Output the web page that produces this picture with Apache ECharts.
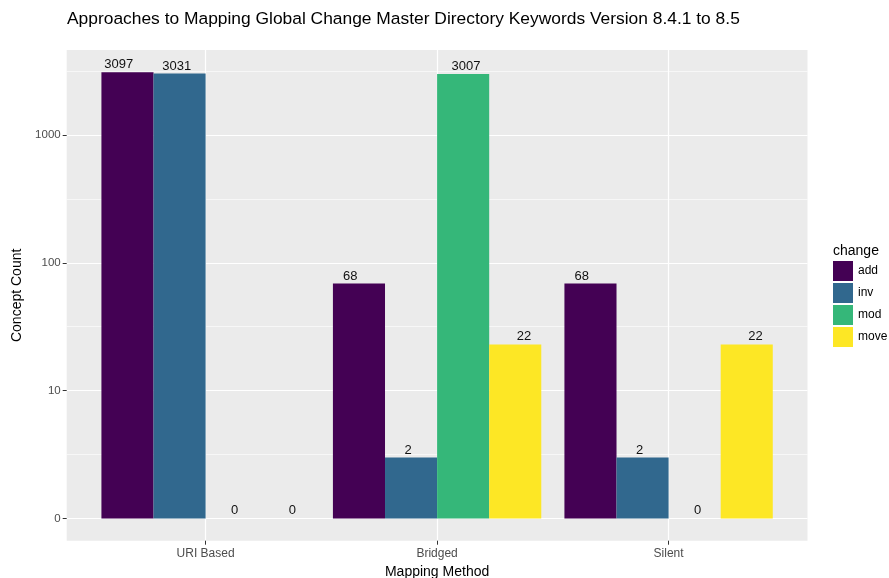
<!DOCTYPE html>
<html>
<head>
<meta charset="utf-8">
<script src="https://cdn.jsdelivr.net/npm/echarts@6/dist/echarts.min.js"></script>
<style>html,body{margin:0;padding:0;background:#fff}#c{width:889px;height:578px}</style>
</head>
<body>
<div id="c"></div>
<script>
// ---- data ----
var categories = ['URI Based', 'Bridged', 'Silent'];
var changes = ['add', 'inv', 'mod', 'move'];
var addValues  = [3097, 68, 68];
var invValues  = [3031, 2, 2];
var modValues  = [0, 3007, 0];
var moveValues = [0, 22, 22];
var yTickValues = [0, 10, 100, 1000];
var colors = ['#440154', '#31688E', '#35B779', '#FDE725'];

var seriesValues = [addValues, invValues, modValues, moveValues];
function t(v) { return Math.log10(v + 1); }
var maxT = 0;
seriesValues.forEach(function (arr) { arr.forEach(function (v) { maxT = Math.max(maxT, t(v)); }); });
var yMin = -0.05 * maxT, yMax = maxT * 1.05;
var majorY = yTickValues.map(function (v) { return Math.log10(v === 0 ? 1 : v); });
var minorY = [];
for (var i = 0; i < majorY.length; i++) { minorY.push(majorY[i] + 0.5); }
var catIdx = categories.map(function (c, i) { return i; });
var font = '"Liberation Sans", Arial, sans-serif';

var W = 889, gridLeft = 66.7, gridRight = 81.5;
var xMin = -0.6, xMax = categories.length - 1 + 0.6;
var unitPx = (W - gridLeft - gridRight) / (xMax - xMin);
var barFrac = 0.9 / changes.length, labelFrac = 1.0 / changes.length;

var chart = echarts.init(document.getElementById('c'), null, { renderer: 'canvas' });
chart.setOption({
  animation: false,
  backgroundColor: '#ffffff',
  title: [
    { text: 'Approaches to Mapping Global Change Master Directory Keywords Version 8.4.1 to 8.5',
      left: 62, top: 6, textStyle: { fontFamily: font, fontSize: 17.4, fontWeight: 'normal', color: '#000' } },
    { text: 'change', left: 833, top: 244, padding: 0,
      textStyle: { fontFamily: font, fontSize: 14, fontWeight: 'normal', color: '#000' } }
  ],
  legend: {
    data: changes, orient: 'vertical', left: 833, top: 261, padding: 0,
    itemWidth: 20, itemHeight: 20, itemGap: 2, icon: 'rect',
    textStyle: { fontFamily: font, fontSize: 12, color: '#000' },
    selectedMode: false
  },
  grid: { left: gridLeft, right: gridRight, top: 50, bottom: 37.3, show: true, backgroundColor: '#EBEBEB',
    borderWidth: 0, containLabel: false, outerBoundsMode: 'none' },
  xAxis: {
    type: 'value', min: xMin, max: xMax,
    name: 'Mapping Method', nameLocation: 'middle', nameGap: 24,
    nameTextStyle: { fontFamily: font, fontSize: 14, color: '#000' },
    axisLine: { show: false, onZero: false },
    axisTick: { show: true, length: 4, customValues: catIdx, lineStyle: { color: '#333' } },
    axisLabel: { customValues: catIdx, fontFamily: font, fontSize: 12, color: '#4D4D4D', margin: 7,
      formatter: function (v) { return categories[Math.round(v)]; } },
    splitLine: { show: true, lineStyle: { color: '#ffffff', width: 1.2 } }
  },
  yAxis: [{
    type: 'value', min: yMin, max: yMax,
    name: 'Concept Count', nameLocation: 'middle', nameGap: 38,
    nameTextStyle: { fontFamily: font, fontSize: 14, color: '#000' },
    axisLine: { show: false, onZero: false },
    axisTick: { show: true, length: 4, customValues: majorY, lineStyle: { color: '#333' } },
    axisLabel: { customValues: majorY, fontFamily: font, fontSize: 11.5, color: '#4D4D4D', margin: 6,
      formatter: function (v) { var r = Math.round(Math.pow(10, v)); return v === 0 ? '0' : String(r); } },
    splitLine: { show: true, lineStyle: { color: '#ffffff', width: 1.2 } }
  }, {
    type: 'value', min: yMin, max: yMax, position: 'left',
    axisLine: { show: false, onZero: false },
    axisTick: { show: false, customValues: minorY },
    axisLabel: { show: false, customValues: minorY },
    splitLine: { show: true, lineStyle: { color: '#ffffff', width: 0.6 } }
  }],
  series: changes.map(function (name, s) {
    var k = s - (changes.length - 1) / 2;
    return {
      name: name, type: 'bar', yAxisIndex: 0,
      barWidth: (barFrac * 100) + '%', barGap: '0%',
      itemStyle: { color: colors[s] },
      label: { show: true, position: 'top', distance: 1, fontFamily: font, fontSize: 13, color: '#111',
        offset: [k * (labelFrac - barFrac) * unitPx, 0],
        formatter: function (p) { return String(p.value[2]); } },
      data: seriesValues[s].map(function (v, i) { return [i, t(v), v]; }),
      z: 3
    };
  })
});
</script>
</body>
</html>
